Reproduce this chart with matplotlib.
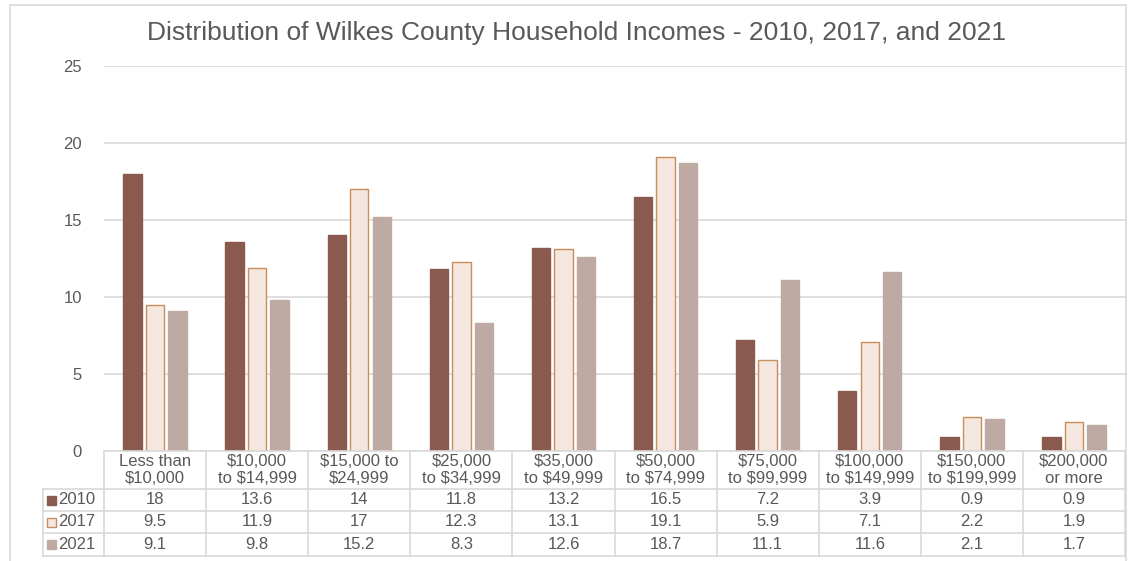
import matplotlib.pyplot as plt
from matplotlib.patches import Rectangle
import numpy as np

plt.rcParams['font.family'] = ['Liberation Sans', 'DejaVu Sans']

categories = ['Less than\n$10,000', '$10,000\nto $14,999', '$15,000 to\n$24,999',
              '$25,000\nto $34,999', '$35,000\nto $49,999', '$50,000\nto $74,999',
              '$75,000\nto $99,999', '$100,000\nto $149,999', '$150,000\nto $199,999',
              '$200,000\nor more']
years = ['2010', '2017', '2021']
v2010 = [18, 13.6, 14, 11.8, 13.2, 16.5, 7.2, 3.9, 0.9, 0.9]
v2017 = [9.5, 11.9, 17, 12.3, 13.1, 19.1, 5.9, 7.1, 2.2, 1.9]
v2021 = [9.1, 9.8, 15.2, 8.3, 12.6, 18.7, 11.1, 11.6, 2.1, 1.7]
values = [v2010, v2017, v2021]

faces = ['#8B5A4E', '#F3E7DF', '#BEAAA2']
edges = ['#8B5A4E', '#C98E5B', '#BEAAA2']
grid_c = '#D9D9D9'
text_c = '#595959'
fs = 12

W, H = 1128, 561
fig = plt.figure(figsize=(W / 100, H / 100), dpi=100)

# plot area in pixel terms
x0, x1 = 104, 1125
y_top, y_bot = 66, 451
ax = fig.add_axes([x0 / W, 1 - y_bot / H, (x1 - x0) / W, (y_bot - y_top) / H])

n = len(categories)
x = np.arange(n)
bw = 0.18
step = 0.22
for i, (vals, fc, ec) in enumerate(zip(values, faces, edges)):
    ax.bar(x + (i - 1) * step, vals, width=bw, color=fc, edgecolor=ec,
           linewidth=1.0, zorder=3)

ax.set_xlim(-0.5, n - 0.5)
ax.set_ylim(0, 25)
ax.set_yticks([0, 5, 10, 15, 20, 25])
ax.tick_params(axis='y', length=0, pad=16, labelsize=fs, labelcolor=text_c)
ax.set_xticks([])
ax.yaxis.grid(True, color=grid_c, linewidth=1.2, zorder=0)
for s in ax.spines.values():
    s.set_visible(False)

fig.text(577 / W, 1 - 33 / H, 'Distribution of Wilkes County Household Incomes - 2010, 2017, and 2021',
         ha='center', va='center', fontsize=19, color=text_c)

# data table under the bars
def fy(py):
    return 1 - py / H

def fx(px):
    return px / W

col_w = (x1 - x0) / n
row_lines = [451, 489, 511, 533, 556]
lab_left = 43
line_kw = dict(color=grid_c, linewidth=1.2, transform=fig.transFigure)

# horizontal lines
fig.add_artist(plt.Line2D([fx(x0), fx(x1)], [fy(451), fy(451)], **line_kw))
for py in row_lines[1:]:
    fig.add_artist(plt.Line2D([fx(lab_left), fx(x1)], [fy(py), fy(py)], **line_kw))
# vertical lines
for j in range(n + 1):
    px = x0 + j * col_w
    fig.add_artist(plt.Line2D([fx(px), fx(px)], [fy(451), fy(556)], **line_kw))
fig.add_artist(plt.Line2D([fx(lab_left), fx(lab_left)], [fy(489), fy(556)], **line_kw))

# header labels
for j, cat in enumerate(categories):
    cx = x0 + (j + 0.5) * col_w
    fig.text(fx(cx), fy(470), cat, ha='center', va='center', fontsize=fs,
             color=text_c, linespacing=1.12)

# rows
for i, (yr, vals) in enumerate(zip(years, values)):
    cy = (row_lines[i + 1] + row_lines[i + 2]) / 2
    fig.add_artist(Rectangle((fx(47), fy(cy + 4.5)), 9 / W, 9 / H, transform=fig.transFigure,
                             facecolor=faces[i], edgecolor=edges[i], linewidth=1.0))
    fig.text(fx(58), fy(cy), yr, ha='left', va='center', fontsize=fs, color=text_c)
    for j, v in enumerate(vals):
        cx = x0 + (j + 0.5) * col_w
        fig.text(fx(cx), fy(cy), f'{v:g}', ha='center', va='center', fontsize=fs,
                 color=text_c)

# outer chart frame
fig.add_artist(Rectangle((fx(10), fy(575)), (1126 - 10) / W, (575 - 5) / H,
                         transform=fig.transFigure, facecolor='none',
                         edgecolor=grid_c, linewidth=1.2))

fig.savefig('out.png', dpi=100)
